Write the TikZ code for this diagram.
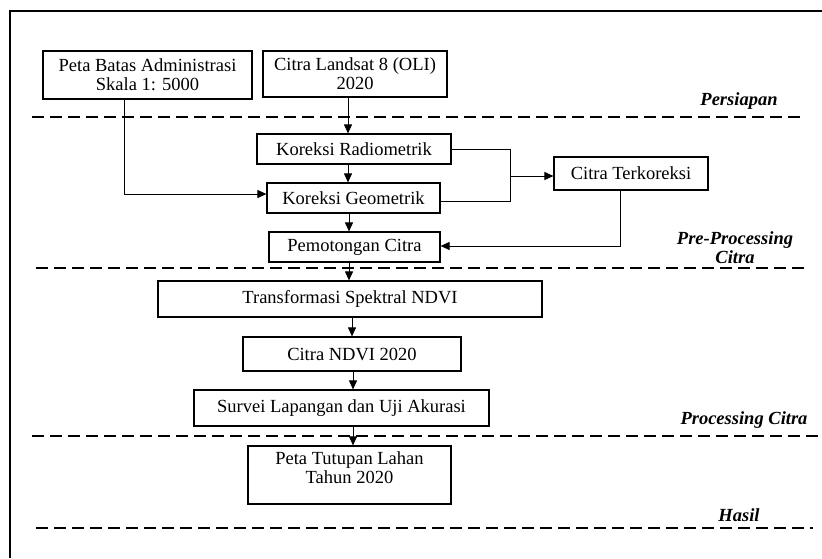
\documentclass[tikz,border=0pt]{standalone}
\usepackage{fontspec}
\setmainfont{Liberation Serif}
\usetikzlibrary{arrows.meta}
\begin{document}
\begin{tikzpicture}[x=1pt,y=-1pt,
  box/.style={draw=black, line width=1.2pt, inner sep=0pt, align=center,
    font=\fontsize{18.5}{19}\selectfont},
  conn/.style={draw=black, line width=1pt},
  arr/.style={conn, -{Triangle[length=9pt,width=8pt]}},
  sep/.style={draw=black, line width=2.6pt, dash pattern=on 12pt off 6pt},
  phase/.style={font=\fontsize{18.5}{19}\selectfont\bfseries\itshape, inner sep=0pt, align=center}]
\useasboundingbox (0,0) rectangle (822,558);
% outer frame
\coordinate (fa) at (10,558);
\coordinate (fb) at (10,11);
\coordinate (fc) at (822,11);
\draw[line width=2pt] (fa) -- (fb) -- (fc);

% boxes
\node[box, minimum width=209pt, minimum height=48pt] (peta) at (147.5,75) {Peta Batas Administrasi\\Skala 1: 5000};
\node[box, minimum width=184pt, minimum height=46pt] (landsat) at (355,74) {Citra Landsat 8 (OLI)\\2020};
\node[box, minimum width=194pt, minimum height=30pt] (radio) at (354,149) {Koreksi Radiometrik};
\node[box, minimum width=173pt, minimum height=30pt] (geo) at (353.5,198) {Koreksi Geometrik};
\node[box, minimum width=171pt, minimum height=30pt] (pemot) at (354.5,247) {Pemotongan Citra};
\node[box, minimum width=154pt, minimum height=33pt] (terk) at (631,173.5) {Citra Terkoreksi};
\node[box, minimum width=384pt, minimum height=36pt] (trans) at (350,299) {Transformasi Spektral NDVI};
\node[box, minimum width=218pt, minimum height=34pt] (ndvi) at (352,354) {Citra NDVI 2020};
\node[box, minimum width=295pt, minimum height=36pt] (survei) at (341.5,408) {Survei Lapangan dan Uji Akurasi};
\node[box, minimum width=203pt, minimum height=58pt, text depth=14pt] (tutupan) at (349.5,475) {Peta Tutupan Lahan\\Tahun 2020};

% separators
\coordinate (d1a) at (32,117);  \coordinate (d1b) at (800,117);
\coordinate (d2a) at (36,268);  \coordinate (d2b) at (805,268);
\coordinate (d3a) at (32,436);  \coordinate (d3b) at (822,436);
\coordinate (d4a) at (36,528);  \coordinate (d4b) at (813,528);
\draw[sep] (d1a) -- (d1b);
\draw[sep] (d2a) -- (d2b);
\draw[sep] (d3a) -- (d3b);
\draw[sep] (d4a) -- (d4b);

% phase labels
\node[phase] (lp1) at (739,101) {Persiapan};
\node[phase] (lp2) at (735,248) {Pre-Processing\\Citra};
\node[phase] (lp3) at (744,420) {Processing Citra};
\node[phase] (lp4) at (739,515) {Hasil};

% vertical flow
\coordinate (xa) at (348,0);
\coordinate (xb) at (349,0);
\coordinate (xc) at (352,0);
\coordinate (xd) at (353,0);
\draw[arr] (landsat.south -| xa) -- (radio.north -| xa);
\draw[arr] (radio.south -| xa) -- (geo.north -| xa);
\draw[arr] (geo.south -| xb) -- (pemot.north -| xb);
\draw[arr] (pemot.south -| xb) -- (trans.north -| xb);
\draw[arr] (trans.south -| xc) -- (ndvi.north -| xc);
\draw[arr] (ndvi.south -| xd) -- (survei.north -| xd);
\draw[arr] (survei.south -| xd) -- (tutupan.north -| xd);

% peta to geometrik
\coordinate (pg) at (124,194);
\draw[arr] (peta.south -| pg) -- (pg) -- (geo.west |- pg);

% merge to citra terkoreksi
\coordinate (j1) at (510,149);
\coordinate (j2) at (510,201);
\coordinate (j3) at (510,176);
\draw[conn] (radio.east |- j1) -- (j1) -- (j2) -- (geo.east |- j2);
\draw[arr] (j3) -- (terk.west |- j3);

% citra terkoreksi to pemotongan
\coordinate (k) at (620,246);
\draw[arr] (terk.south -| k) -- (k) -- (pemot.east |- k);
\end{tikzpicture}
\end{document}
